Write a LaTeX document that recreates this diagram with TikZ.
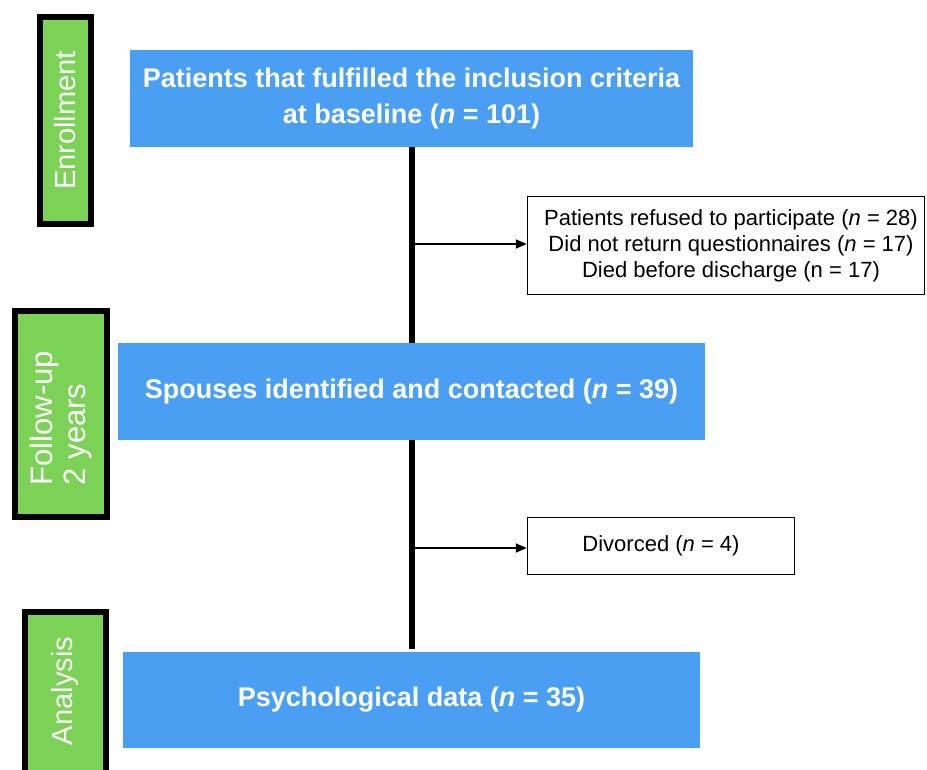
\documentclass[tikz,border=0pt]{standalone}
\usepackage{fontspec}
\setmainfont{Liberation Sans}
\usetikzlibrary{arrows.meta}
\definecolor{bluebox}{HTML}{4A9FF5}
\definecolor{greenbox}{HTML}{7CD257}
\tikzset{
  mainbox/.style={fill=bluebox, draw=none, text=white, font=\fontsize{27}{36}\selectfont\bfseries, align=center, inner sep=0pt},
  sidebox/.style={fill=white, draw=black, line width=1.5pt, font=\fontsize{22}{26}\selectfont, align=center, inner sep=0pt},
  phasebox/.style={fill=greenbox, draw=black, line width=6pt, text=white, font=\fontsize{29}{34}\selectfont, rotate=90, inner sep=0pt},
  flowline/.style={line width=5.5pt, black},
  exitarrow/.style={line width=1.6pt, -{Triangle[length=11pt,width=9pt]}}
}
\begin{document}
\begin{tikzpicture}[x=1pt,y=-1pt]
\useasboundingbox (0,0) rectangle (927,769);
\clip (0,0) rectangle (927,769);
% phase boxes (rotated: minimum width is vertical extent)
\node[phasebox, align=center, minimum width=207pt, minimum height=51pt] (enr) at (65,120.5) {Enrollment};
\node[phasebox, align=left, font=\fontsize{31}{33}\selectfont, minimum width=206pt, minimum height=92pt] (fol) at (61,414) {Follow-up\hspace*{8pt}\\ 2 years};
\node[phasebox, align=center, minimum width=170pt, minimum height=81pt] (ana) at (65.5,697) {\hspace*{12pt}Analysis};
% main boxes
\node[mainbox, minimum width=563pt, minimum height=97pt] (b1) at (411.5,98.5) {Patients that fulfilled the inclusion criteria\\ at baseline (\textit{n} = 101)};
\node[mainbox, minimum width=587pt, minimum height=97pt] (b2) at (411.5,391.5) {Spouses identified and contacted (\textit{n} = 39)};
\node[mainbox, minimum width=577pt, minimum height=96pt] (b3) at (411.5,700) {Psychological data (\textit{n} = 35)};
% side boxes
\node[sidebox, minimum width=397pt, minimum height=98pt] (s1) at (726,245.5) {\hspace*{10pt}Patients refused to participate (\textit{n} = 28)\\ \hspace*{10pt}Did not return questionnaires (\textit{n} = 17)\\ \hspace*{10pt}Died before discharge (n = 17)};
\node[sidebox, minimum width=267pt, minimum height=57pt] (s2) at (661,546) {Divorced (\textit{n} = 4)};
% flow lines
\draw[flowline] (b1.south -| 412,0) -- (b2.north -| 412,0);
\draw[flowline] (b2.south -| 412,0) -- ([yshift=3pt]b3.north -| 412,0);
\coordinate (a1) at (415,244);
\coordinate (a2) at (415,548);
\draw[exitarrow] (a1) -- (s1.west |- a1);
\draw[exitarrow] (a2) -- (s2.west |- a2);
\end{tikzpicture}
\end{document}
